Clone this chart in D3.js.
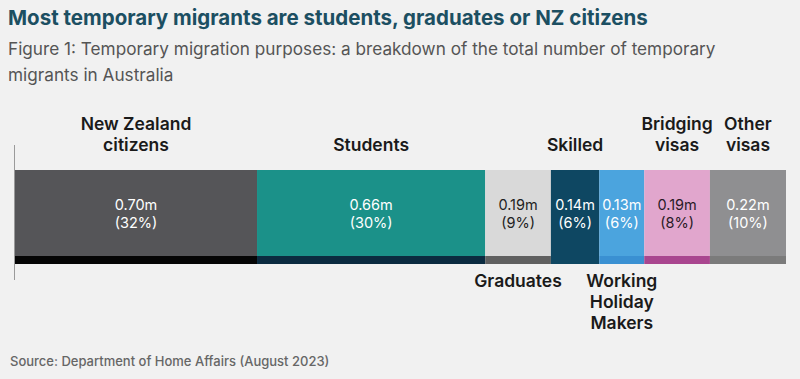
<!DOCTYPE html>
<html>
<head>
<meta charset="utf-8">
<script src="https://cdn.jsdelivr.net/npm/d3@7"></script>
<style>
  body { margin: 0; background: #f1f1f1; }
  svg { display: block; font-family: "Inter", "Noto Sans", sans-serif; }
</style>
</head>
<body>
<svg id="chart" width="800" height="379"></svg>
<script>
// Data
const categories = ["New Zealand citizens", "Students", "Graduates", "Skilled", "Working Holiday Makers", "Bridging visas", "Other visas"];
const values = [0.70, 0.66, 0.19, 0.14, 0.13, 0.19, 0.22];   // millions
const shares = [32, 30, 9, 6, 6, 8, 10];                      // percent

// Presentation
const labelLines = [["New Zealand", "citizens"], ["Students"], ["Graduates"], ["Skilled"], ["Working", "Holiday", "Makers"], ["Bridging", "visas"], ["Other", "visas"]];
const labelSide = ["top", "top", "bottom", "top", "bottom", "top", "top"];
const fills = ["#555558", "#1b9189", "#d9d9d9", "#0e4762", "#4ba4de", "#e1a6cd", "#8f8f91"];
const strips = ["#050505", "#0b2b40", "#606060", "#0e4762", "#3a90d2", "#a9468f", "#7b7b7b"];
const textCol = ["#fff", "#fff", "#222", "#fff", "#fff", "#2a1a26", "#fff"];

const svg = d3.select("#chart");

// Title and subtitle
svg.append("text")
  .attr("x", 8).attr("y", 25)
  .attr("fill", "#1c4f62")
  .attr("font-size", 20.5).attr("font-weight", 700)
  .text("Most temporary migrants are students, graduates or NZ citizens");

const sub = svg.append("text").attr("fill", "#555").attr("font-size", 17.2);
sub.append("tspan").attr("x", 8).attr("y", 55)
  .text("Figure 1: Temporary migration purposes: a breakdown of the total number of temporary");
sub.append("tspan").attr("x", 8).attr("y", 81).text("migrants in Australia");

// Bars
const ends = d3.cumsum(values);
const starts = ends.map((e, i) => e - values[i]);
const x = d3.scaleLinear().domain([0, d3.sum(values)]).range([15, 786]);
const barTop = 170, barBottom = 256, stripH = 8;

const seg = svg.append("g").selectAll("g")
  .data(categories)
  .join("g");

seg.append("rect")
  .attr("x", (d, i) => x(starts[i]))
  .attr("y", barTop)
  .attr("width", (d, i) => x(ends[i]) - x(starts[i]))
  .attr("height", barBottom - barTop)
  .attr("fill", (d, i) => fills[i]);

seg.append("rect")
  .attr("x", (d, i) => x(starts[i]))
  .attr("y", barBottom)
  .attr("width", (d, i) => x(ends[i]) - x(starts[i]))
  .attr("height", stripH)
  .attr("fill", (d, i) => strips[i]);

// value labels inside bars
const mid = i => (x(starts[i]) + x(ends[i])) / 2;
const valTxt = seg.append("text")
  .attr("text-anchor", "middle")
  .attr("font-size", 14.5)
  .attr("fill", (d, i) => textCol[i]);
valTxt.append("tspan")
  .attr("x", (d, i) => mid(i)).attr("y", 210)
  .text((d, i) => d3.format(".2f")(values[i]) + "m");
valTxt.append("tspan")
  .attr("x", (d, i) => mid(i)).attr("y", 228)
  .text((d, i) => "(" + shares[i] + "%)");

// category labels
const catTxt = seg.append("text")
  .attr("text-anchor", "middle")
  .attr("font-size", 17.5)
  .attr("font-weight", 600)
  .attr("fill", "#1a1a1a");
catTxt.each(function (d, i) {
  const lines = labelLines[i];
  const t = d3.select(this);
  lines.forEach((ln, k) => {
    let y;
    if (labelSide[i] === "top") y = 151 - (lines.length - 1 - k) * 21;
    else y = 287 + k * 21;
    t.append("tspan").attr("x", mid(i)).attr("y", y).text(ln);
  });
});

// left rule
svg.append("line")
  .attr("x1", 14.5).attr("x2", 14.5)
  .attr("y1", 145).attr("y2", 280)
  .attr("stroke", "#9a9a9a").attr("stroke-width", 1);

// source
svg.append("text")
  .attr("x", 10).attr("y", 366)
  .attr("fill", "#666")
  .attr("font-size", 13).attr("font-weight", 500)
  .text("Source: Department of Home Affairs (August 2023)");
</script>
</body>
</html>
